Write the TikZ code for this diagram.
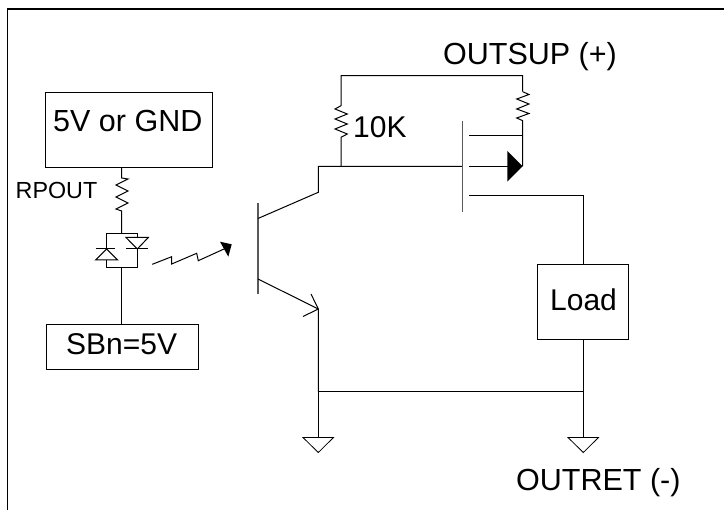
\documentclass[tikz,border=0pt]{standalone}
\usepackage{fontspec}
\setmainfont{Liberation Sans}
\newcommand{\fs}[1]{\fontsize{#1}{#1}\selectfont}
\tikzset{x=1pt,y=-1pt,
  wire/.style={draw=black,line width=1pt,line join=miter},
  thick wire/.style={draw=black!65,line width=1.2pt},
  boxs/.style={draw=black,line width=1pt,fill=white,inner sep=0pt},
  lbl/.style={inner sep=0pt,text=black,anchor=base west}}
\begin{document}
\begin{tikzpicture}
\useasboundingbox (0,0) rectangle (724,510);
\fill[white] (0,0) rectangle (724,510);
\draw[wire,line width=1.3pt] (7.5,530) -- (7.5,9) -- (730,9);
% boxes
\node[boxs,minimum width=166.5,minimum height=74.5,anchor=north west] (src) at (45.3,92.3) {};
\node[boxs,minimum width=151.5,minimum height=45,anchor=north west] (sb) at (46,324) {};
\node[boxs,minimum width=91,minimum height=75.5,anchor=north west] (load) at (537.3,264) {};
\node[lbl] (t1) at (53,132) {\fs{30.5}5V or GND};
\node[lbl] (t2) at (66,355) {\fs{30}SBn=5V};
\node[lbl] (t3) at (550,311) {\fs{30}Load};
\node[lbl] (rp) at (15.5,199) {\fs{23.3}RPOUT};
\node[lbl] (k) at (353,138) {\fs{30}10K};
\node[lbl] (os) at (443,65) {\fs{30.5}OUTSUP (+)};
\node[lbl] (or) at (516,491) {\fs{30.5}OUTRET (-)};
% resistor RPOUT
\coordinate (r1t) at (121.7,178);
\coordinate (r1b) at (121.7,211);
\draw[wire] (src.south -| r1t) -- (r1t) -- (128,179) -- (116,185) -- (128,191) -- (116,197) -- (128,203) -- (116,209) -- (r1b) -- (121.7,234);
% diodes
\coordinate (db) at (121.7,267.7);
\draw[wire] (106.7,267.7) -- (106.7,234) -- (137.3,234) -- (137.3,267.7) -- cycle;
\draw[wire] (db) -- (sb.north -| db);
\draw[wire,fill=white] (106.7,249) -- (95.7,260) -- (117.7,260) -- cycle;
\draw[wire] (95.7,249) -- (115,249);
\draw[wire,fill=white] (137.3,249) -- (126,237.5) -- (148.3,237.5) -- cycle;
\draw[wire] (126,249) -- (148.3,249);
% light arrow
\coordinate (la) at (152.3,264.3);
\draw[wire] (la) -- (171.7,256.7) -- (171.7,264) -- (196.7,253.3) -- (198.3,260.7) -- (224,249);
\fill[black] (220,241.7) -- (231.7,244.3) -- (228.3,256.7) -- cycle;
% BJT
\draw[thick wire] (258,203) -- (258,294.5);
\draw[wire] (258,218.5) -- (318.3,192.3) -- (318.3,166.3) -- (462,166.3);
\draw[wire] (258,279) -- (318.3,309) -- (318.3,392.5);
\draw[wire] (311,294) -- (318.3,309) -- (303,316.5);
% pullups
\draw[wire] (341,166.3) -- (341,137.3) -- (347.3,134) -- (335,129) -- (347.3,124) -- (335,119) -- (347.3,114) -- (335,109) -- (341,105.7) -- (341,75.7) -- (522.7,75.7) -- (522.7,91.7);
\draw[wire] (522.7,91.7) -- (529,94.5) -- (516.7,99) -- (529,104) -- (516.7,109) -- (529,113.5) -- (516.7,118) -- (522.7,120.7) -- (522.7,166.3);
% MOSFET
\draw[thick wire] (462.3,121) -- (462.3,211.7);
\draw[wire] (469.3,136) -- (522.7,136);
\draw[wire] (469.3,166.3) -- (508,166.3);
\fill[black] (507.3,151) -- (522.7,166.3) -- (507.3,181.7) -- cycle;
\draw[wire] (469.3,196) -- (583.3,196) -- (583.3,264);
\draw[wire] (583.3,339.5) -- (583.3,437.5);
\draw[wire] (318.3,392) -- (583.3,392);
\draw[wire] (318.3,392) -- (318.3,437.5);
% grounds
\draw[line width=.8pt] (303,437.5) -- (333.5,437.5) -- (318.3,452.5) -- cycle;
\draw[line width=.8pt] (568,437.5) -- (598.5,437.5) -- (583.3,452.5) -- cycle;
\end{tikzpicture}
\end{document}
